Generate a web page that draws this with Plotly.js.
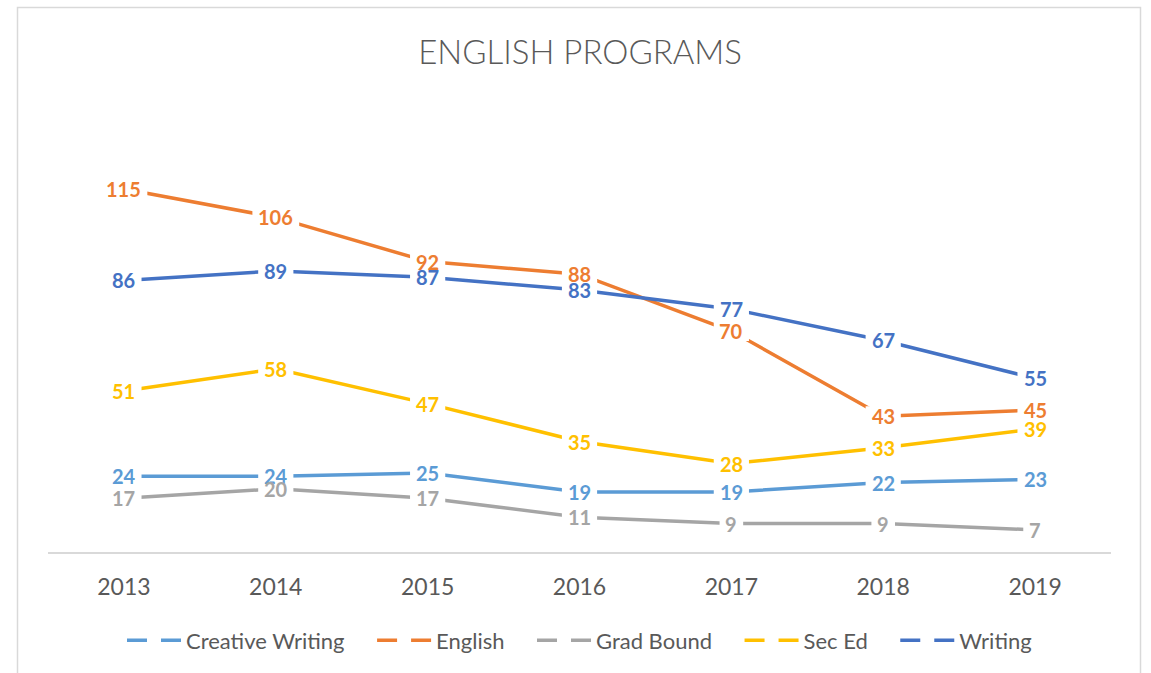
<!DOCTYPE html>
<html>
<head>
<meta charset="utf-8">
<script src="https://cdn.plot.ly/plotly-3.0.1.min.js"></script>
<style>
html,body{margin:0;padding:0;background:#fff;}
#chart{width:1151px;height:673px;}
</style>
</head>
<body>
<div id="chart"></div>
<script>
var years = ['2013','2014','2015','2016','2017','2018','2019'];
var creativeWriting = [24,24,25,19,19,22,23];
var english = [115,106,92,88,70,43,45];
var gradBound = [17,20,17,11,9,9,7];
var secEd = [51,58,47,35,28,33,39];
var writing = [86,89,87,83,77,67,55];

var seriesNames = ['Creative Writing','English','Grad Bound','Sec Ed','Writing'];
var seriesValues = [creativeWriting, english, gradBound, secEd, writing];
var seriesColors = ['#5B9BD5','#ED7D31','#A5A5A5','#FFC000','#4472C4'];

var FONT = 'Lato, "Open Sans", sans-serif';
var NB = '\u00a0\u00a0\u00a0\u00a0';
var traces = [];
var boxShapes = [];
var txtAnn = [];
seriesNames.forEach(function(name, i){
  traces.push({
    type:'scatter', mode:'lines', x:years, y:seriesValues[i], name:name,
    showlegend:false, hoverinfo:'skip',
    line:{color:seriesColors[i], width:3.5}
  });
  seriesValues[i].forEach(function(v, j){
    var hw = String(v).length * 5.8 + 6;
    boxShapes.push({type:'rect', layer:'above', xref:'x', yref:'y',
      xsizemode:'pixel', ysizemode:'pixel', xanchor:j, yanchor:v,
      x0:-hw, x1:hw, y0:-10, y1:10,
      line:{width:0}, fillcolor:'#ffffff'});
    txtAnn.push({x:j, y:v, xref:'x', yref:'y', text:'<b>'+v+'</b>', showarrow:false,
      font:{family:FONT, size:20, color:seriesColors[i]},
      xanchor:'center', yanchor:'middle'});
  });
});
// legend entries (dashed symbols as in the original)
seriesNames.forEach(function(name, i){
  traces.push({
    type:'scatter', mode:'lines', x:[null], y:[null], name:name + (i < seriesNames.length-1 ? NB : ''),
    showlegend:true, hoverinfo:'skip',
    line:{color:seriesColors[i], width:3.5, dash:'20px,14px'}
  });
});

var layout = {
  width:1151, height:673,
  margin:{l:48, r:40, t:110, b:121},
  paper_bgcolor:'#ffffff', plot_bgcolor:'#ffffff',
  showlegend:true,
  title:{text:'ENGLISH PROGRAMS', x:0.504, xanchor:'center', y:0.922, yanchor:'middle',
    font:{family:FONT, size:33, color:'#595959', weight:300}},
  xaxis:{type:'category', categoryorder:'array', categoryarray:years, range:[-0.5,6.5],
    showgrid:false, zeroline:false, showline:true,
    linecolor:'#D9D9D9', linewidth:1.5, ticks:'', ticklabelstandoff:14,
    tickfont:{family:FONT, size:23, color:'#595959'}, fixedrange:true},
  yaxis:{range:[0,140], visible:false, showgrid:false, zeroline:false, fixedrange:true},
  legend:{orientation:'h', x:0.5, xanchor:'center', y:-0.2, yanchor:'middle',
    font:{family:FONT, size:22, color:'#595959'}, itemwidth:54, tracegroupgap:0,
    traceorder:'normal'},
  annotations: txtAnn,
  shapes:[{type:'rect', xref:'paper', yref:'paper',
    x0:(17.5-48)/1063, x1:(1140.5-48)/1063, y0:(552-700)/442, y1:(552-7.5)/442,
    line:{color:'#D9D9D9', width:1.5}, fillcolor:'rgba(0,0,0,0)', layer:'below'}].concat(boxShapes)
};

Plotly.newPlot('chart', traces, layout, {displayModeBar:false, staticPlot:true}).then(function(gd){
  // lengthen the legend line samples to match the original's long dashed keys
  gd.querySelectorAll('.legend .legendlines path').forEach(function(p){
    p.setAttribute('d', 'M5,0h54');
  });
});
</script>
</body>
</html>
